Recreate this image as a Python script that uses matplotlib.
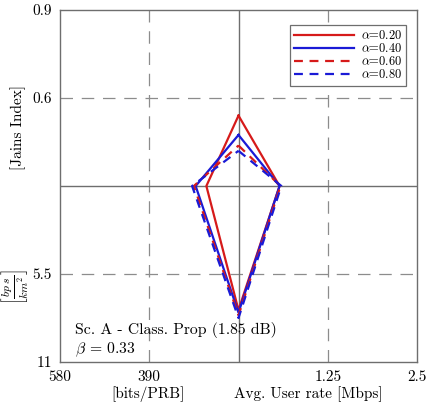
import numpy as np, matplotlib
matplotlib.use("Agg")
import matplotlib.pyplot as plt

plt.rcParams.update({"font.family": "serif", "font.serif": ["cmr10", "DejaVu Serif"],
                     "mathtext.fontset": "cm", "axes.unicode_minus": False, "font.size": 10})

# normalised radius on each of the four spokes: up, right, down, left
labels = [r"$\alpha$=0.20", r"$\alpha$=0.40", r"$\alpha$=0.60", r"$\alpha$=0.80"]
up    = [0.40, 0.29, 0.23, 0.20]
right = [0.23, 0.23, 0.235, 0.24]
down  = [0.705, 0.72, 0.735, 0.75]
left  = [0.18, 0.24, 0.25, 0.26]
colors = ["#d61a1a", "#1a1ad6", "#d61a1a", "#1a1ad6"]
styles = ["-", "-", "--", "--"]

xticks = [-1, -0.5, 0.5, 1]
xticklabels = ["580", "390", "1.25", "2.5"]
yticks = [-1, -0.5, 0.5, 1]
yticklabels = ["11", "5.5", "0.6", "0.9"]

fig = plt.figure(figsize=(4.3, 4.08), dpi=100)
ax = fig.add_axes([60/430, 46/408, 357/430, 352/408])
ax.set_xlim(-1, 1); ax.set_ylim(-1, 1)

GRID = "#8c8c8c"
for v in (-0.5, 0.5):
    ax.axvline(v, color=GRID, lw=0.9, dashes=(10, 7), zorder=1)
    ax.axhline(v, color=GRID, lw=0.9, dashes=(10, 7), zorder=1)
ax.axvline(0, color="#6e6e6e", lw=1.0, zorder=1)
ax.axhline(0, color="#6e6e6e", lw=1.0, zorder=1)

for i in range(4):
    xs = [0, right[i], 0, -left[i], 0]
    ys = [up[i], 0, -down[i], 0, up[i]]
    kw = dict(dashes=(4, 3)) if styles[i] == "--" else {}
    ax.plot(xs, ys, color=colors[i], lw=1.6, label=labels[i], zorder=3, **kw)

ax.set_xticks(xticks); ax.set_xticklabels(xticklabels)
ax.set_yticks(yticks); ax.set_yticklabels(yticklabels)
ax.tick_params(direction="in", length=0, labelsize=11, pad=6)
for s in ax.spines.values():
    s.set_color("#6e6e6e"); s.set_linewidth(1.0)

ax.text(-0.915, -0.84, "Sc. A - Class. Prop (1.85 dB)", fontsize=11.3)
ax.text(-0.915, -0.95, r"$\beta$ = 0.33", fontsize=11.3)

leg = ax.legend(loc="upper right", bbox_to_anchor=(0.988, 0.975), fontsize=9, handlelength=4.8,
                labelspacing=0.0, borderpad=0.35, handletextpad=0.5, fancybox=False, framealpha=1)
leg.get_frame().set_edgecolor("#6e6e6e"); leg.get_frame().set_linewidth(0.9)

fig.text(18/430, 1 - 128/408, "[Jains Index]", rotation=90, ha="center", va="center", fontsize=11)
fig.text(15/430, 1 - 287/408, r"$\left[\frac{bp\,s}{km^2}\right]$", rotation=90, ha="center", va="center", fontsize=12)
fig.text(148/430, 1 - 394/408, "[bits/PRB]", ha="center", va="center", fontsize=11)
fig.text(308/430, 1 - 394/408, "Avg. User rate [Mbps]", ha="center", va="center", fontsize=11)

fig.savefig("out.png", dpi=100)
